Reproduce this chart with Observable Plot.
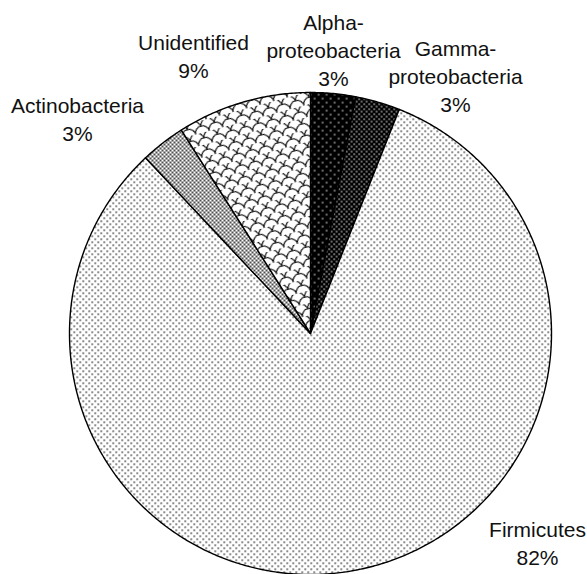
<!DOCTYPE html>
<html><head><meta charset="utf-8">
<script src="https://cdn.jsdelivr.net/npm/d3@7"></script>
<script src="https://cdn.jsdelivr.net/npm/@observablehq/plot@0.6"></script>
<style>body{margin:0;background:#fff}</style>
</head><body><div id="chart"></div>
<script>
// ---- data ----
const categories = ["Alpha-\nproteobacteria", "Gamma-\nproteobacteria", "Firmicutes", "Actinobacteria", "Unidentified"];
const shares = [3, 3, 82, 3, 9];
const percentLabels = ["3%", "3%", "82%", "3%", "9%"];
const patternIds = ["pAlpha", "pGamma", "pFirm", "pActino", "pUnid"];

// ---- layout (pixel geometry) ----
const W = 587, H = 574;
const cx = 310, cy = 333, R = 241;
// baseline of the last label line, centre x (pixels)
const labelAnchors = [[333, 85], [455, 111], [537, 564], [77, 140], [193, 77]];

const toData = ([px, py]) => [(px - cx) / R, (cy - py) / R];

const arcs = d3.pie().sort(null).value(d => d)(shares);
function ring(a0, a1) {
  const pts = [[0, 0]];
  const n = Math.max(2, Math.ceil((a1 - a0) / (Math.PI / 360)));
  for (let k = 0; k <= n; k++) {
    const a = a0 + (a1 - a0) * k / n;
    pts.push([Math.sin(a), Math.cos(a)]);
  }
  pts.push([0, 0]);
  return pts;
}
const slices = arcs.map((a, i) => ({
  type: "Feature",
  properties: {name: categories[i], fill: `url(#${patternIds[i]})`},
  geometry: {type: "Polygon", coordinates: [ring(a.startAngle, a.endAngle)]}
}));
const domain = {type: "MultiPoint", coordinates: [toData([0, 0]), toData([W, H])]};
const labels = categories.map((c, i) => {
  const [x, y] = toData(labelAnchors[i]);
  return {text: c + "\n" + percentLabels[i], x, y};
});

const chart = Plot.plot({
  width: W, height: H,
  margin: 0,
  projection: {type: "reflect-y", domain},
  color: {type: "identity"},
  style: {background: "white"},
  marks: [
    Plot.geo(slices, {fill: d => d.properties.fill, stroke: "black", strokeWidth: 1.4, strokeLinejoin: "round"}),
    Plot.text(labels, {x: "x", y: "y", text: "text", fontSize: 21, lineHeight: 1.33, lineAnchor: "bottom",
      fill: "#111", fontFamily: "'Liberation Sans', Arial, sans-serif"})
  ]
});

const defs = `
<pattern id="pAlpha" patternUnits="userSpaceOnUse" width="8" height="8">
  <rect width="8" height="8" fill="#000"/>
  <rect x="1.5" y="1.5" width="1.3" height="1.3" fill="#fff"/><rect x="5.5" y="5.5" width="1.3" height="1.3" fill="#fff"/>
</pattern>
<pattern id="pGamma" patternUnits="userSpaceOnUse" width="5" height="5">
  <rect width="5" height="5" fill="#000"/>
  <rect x="0.5" y="0.5" width="1.3" height="1.3" fill="#fff"/><rect x="3" y="3" width="1.3" height="1.3" fill="#fff"/>
</pattern>
<pattern id="pFirm" patternUnits="userSpaceOnUse" width="6" height="6">
  <rect width="6" height="6" fill="#fff"/>
  <rect x="1" y="1" width="1.4" height="1.4" fill="#111"/><rect x="4" y="4" width="1.4" height="1.4" fill="#111"/>
</pattern>
<pattern id="pActino" patternUnits="userSpaceOnUse" width="4" height="4">
  <rect width="4" height="4" fill="#fff"/>
  <path d="M0 0L4 4M4 0L0 4" stroke="#222" stroke-width="0.8"/>
</pattern>
<pattern id="pUnid" patternUnits="userSpaceOnUse" width="14" height="12" patternTransform="rotate(-15)">
  <rect width="14" height="12" fill="#fff"/>
  <path d="M0 12A7 7 0 0 1 14 12M-7 6A7 7 0 0 1 7 6M7 6A7 7 0 0 1 21 6M0 0A7 7 0 0 1 14 0" fill="none" stroke="#000" stroke-width="1.1"/>
</pattern>`;
const svg = chart.tagName.toLowerCase() === "svg" ? chart : chart.querySelector("svg");
const d = document.createElementNS("http://www.w3.org/2000/svg", "defs");
d.innerHTML = defs;
svg.insertBefore(d, svg.firstChild);
document.getElementById("chart").appendChild(chart);
</script>
</body></html>
